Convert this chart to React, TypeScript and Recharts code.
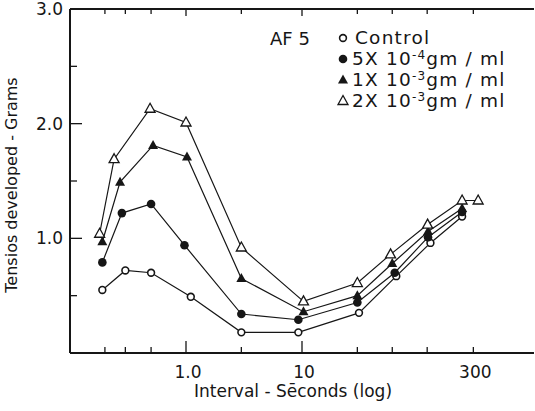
import { LineChart, Line, XAxis, YAxis, Legend } from 'recharts';

const INK = '#161616';
const FONT = '"DejaVu Sans", sans-serif';

// axis ticks (log x, linear y)
const xTicks = [0.2, 0.3, 0.5, 1, 3, 10, 30, 60, 120, 300];
const xTickLabels: Record<number, string> = { 1: '1.0', 10: '10', 300: '300' };
const yTicks = [0.5, 1, 1.5, 2, 2.5, 3];
const yTickLabels: Record<number, string> = { 1: '1.0', 2: '2.0', 3: '3.0' };

// series
const controlX = [0.19, 0.3, 0.5, 1.1, 3, 9.3, 31, 65, 128, 240];
const controlY = [0.55, 0.72, 0.7, 0.49, 0.18, 0.18, 0.35, 0.67, 0.96, 1.19];
const lowX = [0.19, 0.28, 0.5, 0.97, 3, 9.3, 30, 63, 122, 240];
const lowY = [0.79, 1.22, 1.3, 0.94, 0.34, 0.29, 0.44, 0.7, 1.01, 1.23];
const midX = [0.19, 0.27, 0.52, 1.02, 3, 10.3, 30, 60, 122, 240];
const midY = [0.97, 1.49, 1.81, 1.71, 0.65, 0.36, 0.5, 0.78, 1.06, 1.26];
const highX = [0.18, 0.24, 0.49, 1.0, 3, 10.3, 30, 58, 121, 240, 330];
const highY = [1.04, 1.69, 2.13, 2.01, 0.92, 0.45, 0.61, 0.86, 1.12, 1.33, 1.33];

const legendTitle = 'AF 5';
const legendCoef = ['Control', '5X 10', '1X 10', '2X 10'];
const legendExp = ['', '-4', '-3', '-3'];
const legendUnit = ['', 'gm / ml', 'gm / ml', 'gm / ml'];
const kinds = ['openCircle', 'dot', 'tri', 'openTri'];

const toPoints = (xs: number[], ys: number[]) => xs.map((x, i) => ({ x, y: ys[i] }));

const Marker = ({ kind, cx, cy }: { kind: string; cx: number; cy: number }) => {
  if (cx == null || cy == null) return null;
  if (kind === 'openCircle')
    return <circle cx={cx} cy={cy} r={3.4} fill="#fff" stroke={INK} strokeWidth={1.6} />;
  if (kind === 'dot') return <circle cx={cx} cy={cy} r={4.3} fill={INK} />;
  const d = `M${cx},${cy - 5.5}L${cx + 5},${cy + 3.5}L${cx - 5},${cy + 3.5}Z`;
  if (kind === 'tri') return <path d={d} fill={INK} />;
  return <path d={d} fill="#fff" stroke={INK} strokeWidth={1.3} />;
};

const BottomTick = (props: any) => {
  const { x, y, payload } = props;
  const v = payload.value;
  const len = v === 1 || v === 10 ? 12 : 6;
  return (
    <g>
      <line x1={x} y1={y} x2={x} y2={y - len} stroke={INK} strokeWidth={1.3} />
      {xTickLabels[v] && (
        <text x={x + 2} y={y + 25} textAnchor="middle" fontSize={17} fontFamily={FONT} fill={INK}>
          {xTickLabels[v]}
        </text>
      )}
    </g>
  );
};

const TopTick = (props: any) => {
  const { x, y, payload } = props;
  const len = payload.value === 1 || payload.value === 10 ? 7 : 5;
  return <line x1={x} y1={y} x2={x} y2={y + len} stroke={INK} strokeWidth={1.3} />;
};

const LeftTick = (props: any) => {
  const { x, y, payload } = props;
  const v = payload.value;
  const major = Number.isInteger(v);
  return (
    <g>
      {v < 3 && <line x1={x} y1={y} x2={x + (major ? 12 : 7)} y2={y} stroke={INK} strokeWidth={1.3} />}
      {yTickLabels[v] && (
        <text x={x - 7} y={y + 6} textAnchor="end" fontSize={17} fontFamily={FONT} fill={INK}>
          {yTickLabels[v]}
        </text>
      )}
    </g>
  );
};

const RightTick = (props: any) => {
  const { x, y, payload } = props;
  if (payload.value >= 3) return <g />;
  return <line x1={x + 1} y1={y} x2={x - 7} y2={y} stroke={INK} strokeWidth={1.3} />;
};

const LegendBox = () => (
  <svg width={535} height={120} style={{ display: 'block' }}>
    <text x={270} y={45} fontSize={18} fontFamily={FONT} fill={INK}>
      {legendTitle}
    </text>
    {legendCoef.map((c, i) => {
      const base = 44 + i * 21;
      return (
        <g key={i}>
          <Marker kind={kinds[i]} cx={343} cy={base - 6} />
          <text x={i === 0 ? 355 : 352} y={base} fontSize={18.5} fontFamily={FONT} fill={INK} letterSpacing={1.2}>
            {c}
            {legendExp[i] && (
              <tspan fontSize={12} dy={-6}>
                {legendExp[i]}
              </tspan>
            )}
            {legendUnit[i] && <tspan dy={6}>{legendUnit[i]}</tspan>}
          </text>
        </g>
      );
    })}
  </svg>
);

const series = [
  { data: toPoints(controlX, controlY), kind: 'openCircle' },
  { data: toPoints(lowX, lowY), kind: 'dot' },
  { data: toPoints(midX, midY), kind: 'tri' },
  { data: toPoints(highX, highY), kind: 'openTri' },
];

export default function App() {
  return (
    <div style={{ position: 'absolute', left: 0, top: 0, width: 535, height: 411, background: '#fff' }}>
      <LineChart width={535} height={411} margin={{ top: 8, right: 0, bottom: 0, left: 0 }}>
        <XAxis
          xAxisId="b"
          type="number"
          dataKey="x"
          scale="log"
          domain={[0.1, 1000]}
          allowDataOverflow
          ticks={xTicks}
          interval={0}
          height={58}
          tickSize={0}
          tickMargin={0}
          tickLine={false}
          tick={BottomTick}
          axisLine={{ stroke: INK, strokeWidth: 2 }}
          label={{
            content: () => (
              <text x={293} y={397} textAnchor="middle" fontSize={17} fontFamily={FONT} fill={INK}>
                Interval - Sēconds (log)
              </text>
            ),
          }}
        />
        <XAxis
          xAxisId="t"
          orientation="top"
          type="number"
          dataKey="x"
          scale="log"
          domain={[0.1, 1000]}
          allowDataOverflow
          ticks={xTicks}
          interval={0}
          height={1}
          tickSize={0}
          tickMargin={0}
          tickLine={false}
          tick={TopTick}
          axisLine={{ stroke: INK, strokeWidth: 2 }}
        />
        <YAxis
          yAxisId="l"
          type="number"
          domain={[0, 3]}
          ticks={yTicks}
          interval={0}
          width={70}
          tickSize={0}
          tickMargin={0}
          tickLine={false}
          tick={LeftTick}
          axisLine={{ stroke: INK, strokeWidth: 2 }}
          label={{
            content: () => (
              <text
                x={17}
                y={185}
                transform="rotate(-90 17 185)"
                textAnchor="middle"
                fontSize={16}
                fontFamily={FONT}
                fill={INK}
              >
                Tensios developed - Grams
              </text>
            ),
          }}
        />
        <YAxis
          yAxisId="r"
          orientation="right"
          type="number"
          domain={[0, 3]}
          ticks={yTicks}
          interval={0}
          width={1}
          tickSize={0}
          tickMargin={0}
          tickLine={false}
          tick={RightTick}
          axisLine={false}
        />
        <Legend
          verticalAlign="middle"
          align="center"
          content={LegendBox}
          wrapperStyle={{ left: 0, top: 0, width: 535, height: 120 }}
        />
        {series.map((s, i) => (
          <Line
            key={i}
            xAxisId="b"
            yAxisId="l"
            data={s.data}
            dataKey="y"
            type="linear"
            stroke={INK}
            strokeWidth={1.2}
            isAnimationActive={false}
            activeDot={false}
            dot={(p: any) => <Marker key={p.index} kind={s.kind} cx={p.cx} cy={p.cy} />}
          />
        ))}
      </LineChart>
    </div>
  );
}
